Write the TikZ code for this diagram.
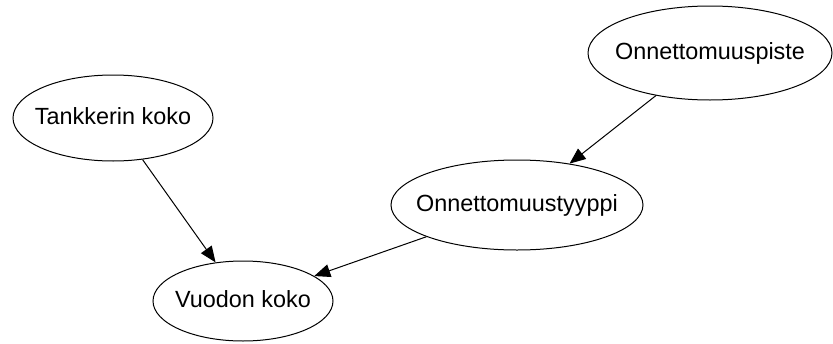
\documentclass[tikz,border=0pt]{standalone}
\usepackage{fontspec}
\setmainfont{Liberation Sans}
\usetikzlibrary{shapes.geometric,arrows.meta}
\begin{document}
\begin{tikzpicture}[x=1pt,y=-1pt,
  var/.style={ellipse,draw=black,line width=1pt,inner sep=0pt,
    font=\fontsize{23.4}{28}\selectfont,text height=17pt,text depth=5pt},
  dep/.style={draw=black,line width=1pt,-{Triangle[length=16pt,width=13pt]}}]
\useasboundingbox[fill=white] (0,0) rectangle (833,343);
% variables of the network
\node[var,minimum width=200pt,minimum height=86pt] (tank) at (113,118) {\makebox[0pt]{Tankkerin koko}};
\node[var,minimum width=244pt,minimum height=94pt] (piste) at (710,53) {\makebox[0pt]{Onnettomuuspiste}};
\node[var,minimum width=252pt,minimum height=90pt] (tyyppi) at (517,205) {\makebox[0pt]{Onnettomuustyyppi}};
\node[var,minimum width=180pt,minimum height=80pt] (vuoto) at (243,301) {\makebox[0pt]{Vuodon koko}};
% dependencies
\draw[dep] (tank) -- (vuoto);
\draw[dep] (piste) -- (tyyppi);
\draw[dep] (tyyppi) -- (vuoto);
\end{tikzpicture}
\end{document}
